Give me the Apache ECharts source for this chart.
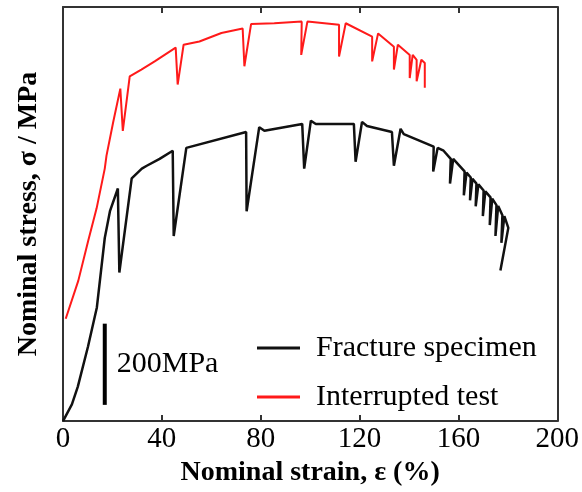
<!DOCTYPE html>
<html>
<head>
<meta charset="utf-8">
<script src="https://cdn.jsdelivr.net/npm/echarts@6/dist/echarts.min.js"></script>
<style>html,body{margin:0;padding:0;background:#fff}#c{width:582px;height:492px}</style>
</head>
<body>
<div id="c"></div>
<script>
// Nominal strain (%) and nominal stress (MPa, offset curves)
const fractureStrain = [0, 3.6, 6.0, 10.1, 13.7, 16.9, 19.0, 22.2, 22.8, 27.8, 31.9, 33.9, 39.1, 44.4, 44.8, 49.9, 74.1, 74.3, 79.4, 81.5, 96.8, 97.6, 100.3, 102.3, 117.7, 118.4, 121.0, 123.0, 133.1, 133.9, 136.6, 137.9, 150.0, 149.8, 151.6, 154.0, 156.9, 156.6, 157.9, 162.5, 162.2, 163.3, 165.0, 164.7, 165.7, 167.3, 167.0, 168.1, 170.2, 169.9, 170.9, 173.0, 172.7, 173.7, 175.4, 175.0, 176.1, 177.8, 177.4, 178.6, 180.2, 177.0];
const fractureStress = [0, 41, 85, 183, 280, 451, 517, 573, 366, 598, 622, 629, 646, 666, 456, 673, 712, 517, 724, 715, 732, 622, 740, 732, 732, 639, 737, 727, 712, 629, 720, 707, 676, 615, 673, 666, 646, 585, 646, 615, 556, 612, 600, 544, 597, 585, 529, 583, 568, 505, 566, 551, 483, 548, 532, 456, 530, 507, 439, 505, 476, 371];

const interruptedStrain = [1.1, 6.2, 10.2, 13.6, 16.9, 17.6, 20.3, 23.2, 24.2, 27.0, 31.7, 37.1, 45.6, 46.4, 48.8, 55.2, 64.1, 72.7, 73.4, 76.1, 85.5, 96.6, 96.4, 98.9, 111.7, 111.7, 114.4, 125.1, 125.1, 127.5, 133.9, 133.9, 135.5, 140.3, 140.3, 141.5, 143.1, 143.1, 145.0, 146.4, 146.4];
const interruptedStress = [252, 346, 444, 524, 622, 654, 736, 819, 715, 849, 866, 886, 920, 829, 927, 935, 956, 967, 874, 978, 980, 984, 902, 984, 976, 898, 980, 947, 886, 955, 922, 866, 927, 902, 845, 902, 890, 837, 890, 882, 821];

const xTicks = [0, 40, 80, 120, 160, 200];
const scaleBarStrain = [16.9, 16.9];
const scaleBarStress = [40, 240];
const scaleBarText = '200MPa';
const seriesNames = ['Fracture specimen', 'Interrupted test'];

const zip = (a, b) => a.map((v, i) => [v, b[i]]);
const serif = '"Liberation Serif","Times New Roman",serif';
const axisCol = '#333';

const chart = echarts.init(document.getElementById('c'));
chart.setOption({
  animation: false,
  backgroundColor: '#fff',
  grid: { left: 63, right: 23, top: 7, bottom: 67 },
  legend: {
    data: seriesNames,
    orient: 'vertical',
    left: 252, top: 328,
    icon: 'rect', itemWidth: 43, itemHeight: 3, itemGap: 19,
    textStyle: { fontFamily: serif, fontSize: 30, color: '#000', lineHeight: 30, padding: [0, 0, 0, 11] }
  },
  xAxis: [{
    type: 'value', min: 0, max: 200, interval: 40,
    name: 'Nominal strain, ε (%)', nameLocation: 'middle', nameGap: 33,
    nameTextStyle: { fontFamily: serif, fontSize: 28, fontWeight: 'bold', color: '#000' },
    axisLine: { onZero: false, lineStyle: { color: axisCol, width: 2 } },
    axisTick: { inside: true, length: 6, lineStyle: { color: axisCol, width: 2 } },
    axisLabel: { fontFamily: serif, fontSize: 29, color: '#000', margin: 4,
      formatter: v => xTicks.includes(v) ? String(v) : '' },
    splitLine: { show: false }
  }, {
    type: 'value', position: 'top', min: 0, max: 200, interval: 40,
    axisLine: { onZero: false, lineStyle: { color: axisCol, width: 2 } },
    axisTick: { inside: true, length: 6, lineStyle: { color: axisCol, width: 2 } },
    axisLabel: { show: false }, splitLine: { show: false }
  }],
  yAxis: [{
    type: 'value', min: 0, max: 1020,
    name: 'Nominal stress, σ / MPa', nameLocation: 'middle', nameGap: 20,
    nameTextStyle: { fontFamily: serif, fontSize: 28, fontWeight: 'bold', color: '#000' },
    axisLine: { show: true, onZero: false, lineStyle: { color: axisCol, width: 2 } },
    axisTick: { show: false }, axisLabel: { show: false }, splitLine: { show: false }
  }, {
    type: 'value', position: 'right', min: 0, max: 1020,
    axisLine: { show: true, onZero: false, lineStyle: { color: axisCol, width: 2 } },
    axisTick: { show: false }, axisLabel: { show: false }, splitLine: { show: false }
  }],
  series: [{
    name: seriesNames[0], type: 'line', data: zip(fractureStrain, fractureStress),
    showSymbol: false, symbol: 'none', color: '#111',
    lineStyle: { color: '#111', width: 2.5 }
  }, {
    name: seriesNames[1], type: 'line', data: zip(interruptedStrain, interruptedStress),
    showSymbol: false, symbol: 'none', color: '#ff1a1a',
    lineStyle: { color: '#ff1a1a', width: 2 }
  }, {
    name: 'scale', type: 'line', data: zip(scaleBarStrain, scaleBarStress),
    showSymbol: false, symbol: 'none', silent: true,
    lineStyle: { color: '#000', width: 4 }
  }, {
    name: 'scaleLabel', type: 'scatter', silent: true, symbolSize: 0,
    data: [[scaleBarStrain[0], (scaleBarStress[0] + scaleBarStress[1]) / 2]],
    itemStyle: { opacity: 1 },
    label: { show: true, position: 'right', distance: 12, formatter: scaleBarText,
      fontFamily: serif, fontSize: 30, color: '#000' }
  }]
});
</script>
</body>
</html>
